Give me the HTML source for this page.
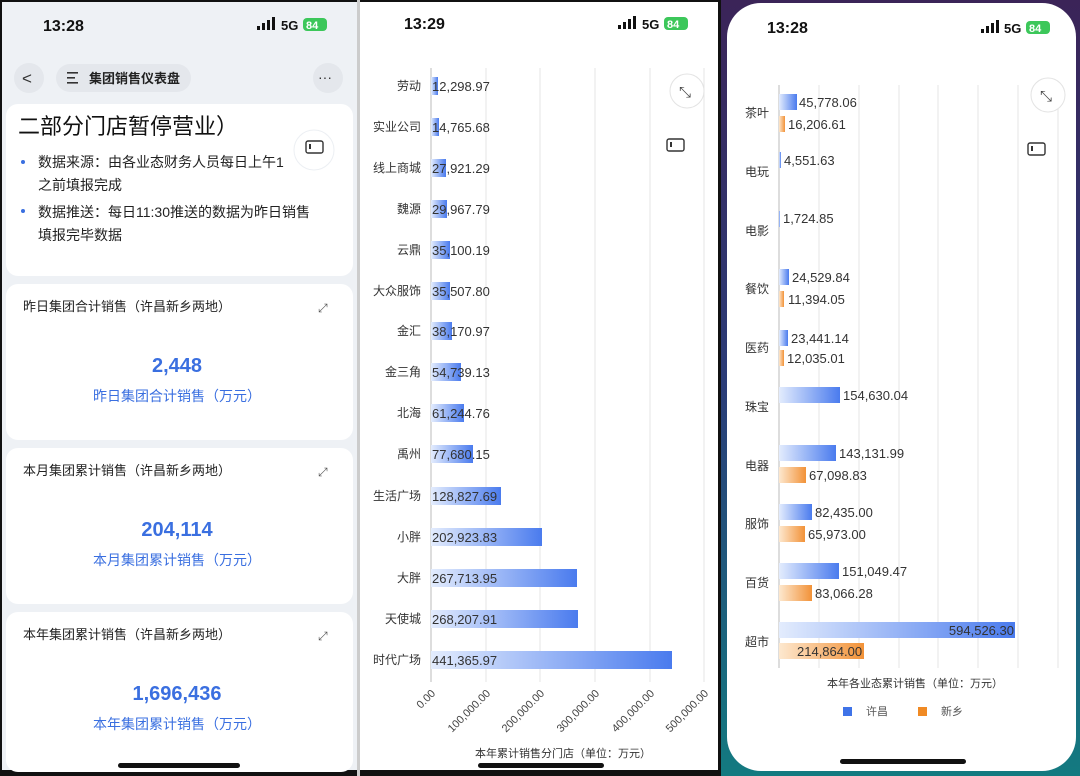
<!DOCTYPE html>
<html><head><meta charset="utf-8"><style>
html,body{margin:0;padding:0;background:#111;}
svg{display:block}
text{font-family:"Liberation Sans","Noto Sans CJK SC",sans-serif;}
</style></head><body>
<svg width="1080" height="776" viewBox="0 0 1080 776" xmlns="http://www.w3.org/2000/svg">
<defs>
<linearGradient id="bl" x1="0" x2="1" y1="0" y2="0"><stop offset="0" stop-color="#e3ecfd"/><stop offset="1" stop-color="#4a7bee"/></linearGradient>
<linearGradient id="or" x1="0" x2="1" y1="0" y2="0"><stop offset="0" stop-color="#fde8cf"/><stop offset="1" stop-color="#f29238"/></linearGradient>
<linearGradient id="bez" x1="0" x2="0" y1="0" y2="1"><stop offset="0" stop-color="#3b2458"/><stop offset="0.5" stop-color="#2a3c78"/><stop offset="1" stop-color="#137a80"/></linearGradient>
</defs>
<rect x="0" y="0" width="1080" height="776" fill="#111"/>
<!-- PANEL 1 -->
<rect x="2" y="2" width="355" height="768" fill="#eef1f5"/>
<text x="43" y="31" font-size="16" font-weight="bold" fill="#111">13:28</text>
<g fill="#111"><rect x="257" y="26" width="3" height="4"/><rect x="262" y="23" width="3" height="7"/><rect x="267" y="20" width="3" height="10"/><rect x="272" y="17" width="3" height="13"/></g>
<text x="281" y="30" font-size="13" font-weight="bold" fill="#111">5G</text>
<rect x="303" y="18" width="24" height="13" rx="4" fill="#3cc75a"/><text x="306" y="29" font-size="11" font-weight="bold" fill="#fff">84</text>
<circle cx="29" cy="78" r="15" fill="#e4e7ec"/><text x="22" y="84" font-size="17" fill="#333">&lt;</text>
<rect x="56" y="64" width="135" height="28" rx="14" fill="#e4e7ec"/>
<g fill="#333"><rect x="67" y="72" width="11" height="1.6"/><rect x="67" y="77" width="8" height="1.6"/><rect x="67" y="82" width="11" height="1.6"/></g>
<text x="89" y="83" font-size="13" font-weight="bold" fill="#222">集团销售仪表盘</text>
<circle cx="328" cy="78" r="15" fill="#e4e7ec"/><text x="318" y="82" font-size="14" fill="#333">···</text>
<rect x="6" y="104" width="347" height="172" rx="12" fill="#fff"/>
<text x="18" y="134" font-size="22" fill="#111">二部分门店暂停营业）</text>
<circle cx="23" cy="162" r="2" fill="#3a6fe0"/><text x="38" y="167" font-size="14" fill="#222">数据来源：由各业态财务人员每日上午1</text>
<text x="38" y="190" font-size="14" fill="#222">之前填报完成</text>
<circle cx="23" cy="211" r="2" fill="#3a6fe0"/><text x="38" y="217" font-size="14" fill="#222">数据推送：每日11:30推送的数据为昨日销售</text>
<text x="38" y="240" font-size="14" fill="#222">填报完毕数据</text>
<circle cx="314" cy="150" r="20" fill="#fff" stroke="#eceff3"/>
<rect x="306" y="141" width="17" height="12" rx="2" fill="none" stroke="#333" stroke-width="1.4"/><rect x="309" y="144" width="2" height="5" fill="#333"/>
<g>
<rect x="6" y="284" width="347" height="156" rx="12" fill="#fff"/>
<text x="23" y="311" font-size="13" fill="#222">昨日集团合计销售（许昌新乡两地）</text>
<text x="177" y="372" font-size="20" font-weight="bold" fill="#3a6fe0" text-anchor="middle">2,448</text>
<text x="177" y="401" font-size="14" fill="#3a6fe0" text-anchor="middle">昨日集团合计销售（万元）</text>
<text x="318" y="312" font-size="12" fill="#555">⤢</text>
</g>
<g>
<rect x="6" y="448" width="347" height="156" rx="12" fill="#fff"/>
<text x="23" y="475" font-size="13" fill="#222">本月集团累计销售（许昌新乡两地）</text>
<text x="177" y="536" font-size="20" font-weight="bold" fill="#3a6fe0" text-anchor="middle">204,114</text>
<text x="177" y="565" font-size="14" fill="#3a6fe0" text-anchor="middle">本月集团累计销售（万元）</text>
<text x="318" y="476" font-size="12" fill="#555">⤢</text>
</g>
<g>
<rect x="6" y="612" width="347" height="160" rx="12" fill="#fff"/>
<text x="23" y="639" font-size="13" fill="#222">本年集团累计销售（许昌新乡两地）</text>
<text x="177" y="700" font-size="20" font-weight="bold" fill="#3a6fe0" text-anchor="middle">1,696,436</text>
<text x="177" y="729" font-size="14" fill="#3a6fe0" text-anchor="middle">本年集团累计销售（万元）</text>
<text x="318" y="640" font-size="12" fill="#555">⤢</text>
</g>
<rect x="118" y="763" width="122" height="5" rx="2.5" fill="#111"/>
<!-- PANEL 2 -->
<rect x="360" y="2" width="358" height="768" fill="#fff"/>
<text x="404" y="29" font-size="16" font-weight="bold" fill="#111">13:29</text>
<g fill="#111"><rect x="618" y="25" width="3" height="4"/><rect x="623" y="22" width="3" height="7"/><rect x="628" y="19" width="3" height="10"/><rect x="633" y="16" width="3" height="13"/></g>
<text x="642" y="29" font-size="13" font-weight="bold" fill="#111">5G</text>
<rect x="664" y="17" width="24" height="13" rx="4" fill="#3cc75a"/><text x="667" y="28" font-size="11" font-weight="bold" fill="#fff">84</text>
<g stroke="#e6e6e6"><line x1="486" y1="68" x2="486" y2="682"/><line x1="540" y1="68" x2="540" y2="682"/><line x1="595" y1="68" x2="595" y2="682"/><line x1="650" y1="68" x2="650" y2="682"/><line x1="704" y1="68" x2="704" y2="682"/></g>
<line x1="431" y1="68" x2="431" y2="682" stroke="#bbb"/>
<g font-size="12" fill="#333" text-anchor="end">
<text x="421" y="90">劳动</text><text x="421" y="131">实业公司</text><text x="421" y="172">线上商城</text><text x="421" y="213">魏源</text><text x="421" y="254">云鼎</text><text x="421" y="295">大众服饰</text><text x="421" y="335">金汇</text><text x="421" y="376">金三角</text><text x="421" y="417">北海</text><text x="421" y="458">禹州</text><text x="421" y="500">生活广场</text><text x="421" y="541">小胖</text><text x="421" y="582">大胖</text><text x="421" y="623">天使城</text><text x="421" y="664">时代广场</text>
</g>
<g fill="url(#bl)">
<rect x="431" y="77" width="7" height="18"/><rect x="431" y="118" width="8" height="18"/><rect x="431" y="159" width="15" height="18"/><rect x="431" y="200" width="16" height="18"/><rect x="431" y="241" width="19" height="18"/><rect x="431" y="282" width="19" height="18"/><rect x="431" y="322" width="21" height="18"/><rect x="431" y="363" width="30" height="18"/><rect x="431" y="404" width="33" height="18"/><rect x="431" y="445" width="42" height="18"/><rect x="431" y="487" width="70" height="18"/><rect x="431" y="528" width="111" height="18"/><rect x="431" y="569" width="146" height="18"/><rect x="431" y="610" width="147" height="18"/><rect x="431" y="651" width="241" height="18"/>
</g>
<g font-size="13" fill="#333">
<text x="432" y="91">12,298.97</text><text x="432" y="132">14,765.68</text><text x="432" y="173">27,921.29</text><text x="432" y="214">29,967.79</text><text x="432" y="255">35,100.19</text><text x="432" y="296">35,507.80</text><text x="432" y="336">38,170.97</text><text x="432" y="377">54,739.13</text><text x="432" y="418">61,244.76</text><text x="432" y="459">77,680.15</text><text x="432" y="501">128,827.69</text><text x="432" y="542">202,923.83</text><text x="432" y="583">267,713.95</text><text x="432" y="624">268,207.91</text><text x="432" y="665">441,365.97</text>
</g>
<g font-size="11" fill="#444" text-anchor="end">
<text transform="translate(436,694) rotate(-45)">0.00</text>
<text transform="translate(491,694) rotate(-45)">100,000.00</text>
<text transform="translate(545,694) rotate(-45)">200,000.00</text>
<text transform="translate(600,694) rotate(-45)">300,000.00</text>
<text transform="translate(655,694) rotate(-45)">400,000.00</text>
<text transform="translate(709,694) rotate(-45)">500,000.00</text>
</g>
<text x="563" y="757" font-size="11" fill="#333" text-anchor="middle">本年累计销售分门店（单位：万元）</text>
<circle cx="687" cy="91" r="17" fill="#fff" stroke="#e3e3e3"/><text x="679" y="97" font-size="15" fill="#444">⤡</text>
<rect x="667" y="139" width="17" height="12" rx="2" fill="none" stroke="#333" stroke-width="1.4"/><rect x="670" y="142" width="2" height="5" fill="#333"/>
<rect x="478" y="763" width="126" height="5" rx="2.5" fill="#111"/>
<!-- PANEL 3 -->
<rect x="721" y="0" width="359" height="776" fill="url(#bez)"/>
<rect x="727" y="3" width="349" height="768" rx="34" fill="#fff"/>
<text x="767" y="33" font-size="16" font-weight="bold" fill="#111">13:28</text>
<g fill="#111"><rect x="981" y="29" width="3" height="4"/><rect x="986" y="26" width="3" height="7"/><rect x="991" y="23" width="3" height="10"/><rect x="996" y="20" width="3" height="13"/></g>
<text x="1004" y="33" font-size="13" font-weight="bold" fill="#111">5G</text>
<rect x="1026" y="21" width="24" height="13" rx="4" fill="#3cc75a"/><text x="1029" y="32" font-size="11" font-weight="bold" fill="#fff">84</text>
<g stroke="#e6e6e6"><line x1="819" y1="85" x2="819" y2="668"/><line x1="859" y1="85" x2="859" y2="668"/><line x1="899" y1="85" x2="899" y2="668"/><line x1="938" y1="85" x2="938" y2="668"/><line x1="978" y1="85" x2="978" y2="668"/><line x1="1018" y1="85" x2="1018" y2="668"/><line x1="1058" y1="85" x2="1058" y2="668"/></g>
<line x1="779" y1="85" x2="779" y2="668" stroke="#bbb"/>
<g font-size="12" fill="#333" text-anchor="end">
<text x="769" y="117">茶叶</text><text x="769" y="176">电玩</text><text x="769" y="235">电影</text><text x="769" y="293">餐饮</text><text x="769" y="352">医药</text><text x="769" y="411">珠宝</text><text x="769" y="470">电器</text><text x="769" y="528">服饰</text><text x="769" y="587">百货</text><text x="769" y="646">超市</text>
</g>
<g fill="url(#bl)">
<rect x="779" y="94" width="18" height="16"/><rect x="779" y="152" width="2" height="16"/><rect x="779" y="211" width="1" height="16"/><rect x="779" y="269" width="10" height="16"/><rect x="779" y="330" width="9" height="16"/><rect x="779" y="387" width="61" height="16"/><rect x="779" y="445" width="57" height="16"/><rect x="779" y="504" width="33" height="16"/><rect x="779" y="563" width="60" height="16"/><rect x="779" y="622" width="236" height="16"/>
</g>
<g fill="url(#or)">
<rect x="779" y="116" width="6" height="16"/><rect x="779" y="291" width="5" height="16"/><rect x="779" y="350" width="5" height="16"/><rect x="779" y="467" width="27" height="16"/><rect x="779" y="526" width="26" height="16"/><rect x="779" y="585" width="33" height="16"/><rect x="779" y="643" width="85" height="16"/>
</g>
<g font-size="13" fill="#333">
<text x="799" y="107">45,778.06</text><text x="788" y="129">16,206.61</text>
<text x="784" y="165">4,551.63</text><text x="783" y="223">1,724.85</text>
<text x="792" y="282">24,529.84</text><text x="788" y="304">11,394.05</text>
<text x="791" y="343">23,441.14</text><text x="787" y="363">12,035.01</text>
<text x="843" y="400">154,630.04</text>
<text x="839" y="458">143,131.99</text><text x="809" y="480">67,098.83</text>
<text x="815" y="517">82,435.00</text><text x="808" y="539">65,973.00</text>
<text x="842" y="576">151,049.47</text><text x="815" y="598">83,066.28</text>
<text x="1014" y="635" text-anchor="end">594,526.30</text><text x="797" y="656">214,864.00</text>
</g>
<text x="915" y="687" font-size="11" fill="#333" text-anchor="middle">本年各业态累计销售（单位：万元）</text>
<rect x="843" y="707" width="9" height="9" fill="#3f73e8"/><text x="866" y="715" font-size="11" fill="#555">许昌</text>
<rect x="918" y="707" width="9" height="9" fill="#f08a24"/><text x="941" y="715" font-size="11" fill="#555">新乡</text>
<circle cx="1048" cy="95" r="17" fill="#fff" stroke="#e3e3e3"/><text x="1040" y="101" font-size="15" fill="#444">⤡</text>
<rect x="1028" y="143" width="17" height="12" rx="2" fill="none" stroke="#333" stroke-width="1.4"/><rect x="1031" y="146" width="2" height="5" fill="#333"/>
<rect x="840" y="759" width="126" height="5" rx="2.5" fill="#111"/>
<rect x="357" y="0" width="3" height="776" fill="#ccc"/>
</svg>
</body></html>
